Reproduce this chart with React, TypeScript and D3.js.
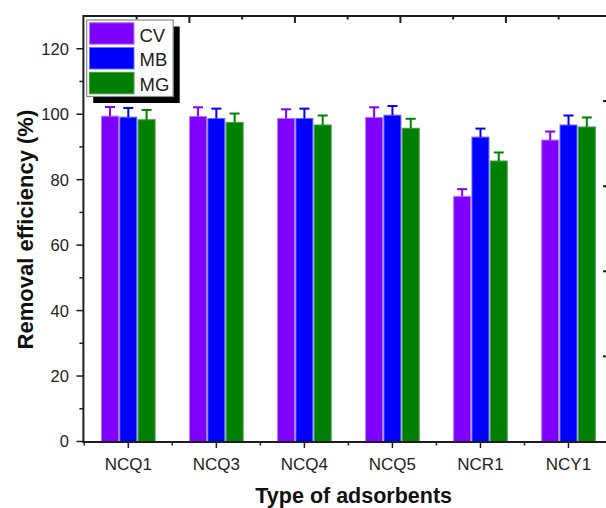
import React from "react";
import * as d3 from "d3";

const categories = ["NCQ1", "NCQ3", "NCQ4", "NCQ5", "NCR1", "NCY1"];
const seriesNames = ["CV", "MB", "MG"];
const cvValues = [99.4, 99.3, 98.7, 99.0, 74.9, 92.1];
const mbValues = [99.1, 98.7, 98.7, 99.7, 93.0, 96.7];
const mgValues = [98.3, 97.5, 96.7, 95.7, 85.7, 96.1];
const cvErrors = [2.8, 2.8, 2.8, 3.1, 2.2, 2.6];
const mbErrors = [2.8, 3.0, 3.0, 2.8, 2.6, 2.9];
const mgErrors = [3.0, 2.7, 2.9, 2.9, 2.6, 2.9];
const yTickValues = [0, 20, 40, 60, 80, 100, 120];

const W = 606;
const H = 508;
const FONT = "'Liberation Sans', Arial, Helvetica, sans-serif";
const colors = ["#8000ff", "#0000ff", "#008000"];
const borders = ["#b477ff", "#6a6aff", "#4a9a4a"];
const AXIS = "#1e1e1e";

export default function App() {
  const series = [
    { name: seriesNames[0], values: cvValues, errors: cvErrors },
    { name: seriesNames[1], values: mbValues, errors: mbErrors },
    { name: seriesNames[2], values: mgValues, errors: mgErrors },
  ];

  const y = d3.scaleLinear().domain([0, 130]).range([441.5, 16]);
  const x = d3.scaleLinear().domain([0, 5]).range([128.3, 568.5]);
  const barOffset = 18.3;
  const barW = 17;
  const left = x(-0.51);
  const right = x(5.52);
  const top = y(130);
  const bottom = y(0);

  // top (secondary layer) axis scale
  const xTop = d3.scaleLinear().domain([0, 1]).range([left + 0.5, left + 106]);
  const topTicks = d3.range(0.5, 5.5, 0.5);
  // right (secondary layer) axis scale
  const yRight = d3.scaleLinear().domain([0, 5]).range([bottom, top]);
  const rightTicks = d3.range(1, 5, 1);

  const yMinor = d3.range(10, 130, 20);
  const xMinor = d3.range(-0.5, 6, 1);

  return (
    <svg
      width={W}
      height={H}
      style={{ position: "absolute", left: 0, top: 0, background: "#fff" }}
      fontFamily={FONT}
    >
      {/* bars */}
      {series.map((s, si) =>
        categories.map((c, i) => {
          const cx = x(i) + (si - 1) * barOffset;
          const v = s.values[i];
          return (
            <g key={`${s.name}-${c}`}>
              <rect
                x={cx - barW / 2}
                y={y(v)}
                width={barW}
                height={bottom - y(v)}
                fill={colors[si]}
                stroke={borders[si]}
                strokeWidth={1}
              />
              <line
                x1={cx}
                x2={cx}
                y1={y(v)}
                y2={y(v + s.errors[i])}
                stroke={colors[si]}
                strokeWidth={2}
              />
              <line
                x1={cx - 5}
                x2={cx + 5}
                y1={y(v + s.errors[i])}
                y2={y(v + s.errors[i])}
                stroke={colors[si]}
                strokeWidth={2}
              />
            </g>
          );
        })
      )}

      {/* frame */}
      <line x1={left} x2={W} y1={top} y2={top} stroke={AXIS} strokeWidth={2} />
      <line x1={left} x2={left} y1={top - 1} y2={bottom + 1} stroke={AXIS} strokeWidth={2} />
      <line x1={left - 1} x2={W} y1={bottom + 0.5} y2={bottom + 0.5} stroke={AXIS} strokeWidth={2} />
      <line x1={right} x2={right} y1={top} y2={bottom} stroke={AXIS} strokeWidth={2} />

      {/* top axis ticks (inward) */}
      {topTicks.map((t) => {
        const major = Math.abs(t - Math.round(t)) < 1e-6;
        return (
          <line
            key={`tt${t}`}
            x1={xTop(t)}
            x2={xTop(t)}
            y1={top}
            y2={top + (major ? 7 : 3.5)}
            stroke={AXIS}
            strokeWidth={2}
          />
        );
      })}

      {/* right axis ticks (inward) */}
      {rightTicks.map((t) => (
        <line
          key={`rt${t}`}
          x1={603}
          x2={right}
          y1={yRight(t)}
          y2={yRight(t)}
          stroke={AXIS}
          strokeWidth={2}
        />
      ))}

      {/* y axis ticks */}
      {yTickValues.map((t) => (
        <g key={`yt${t}`}>
          <line x1={left - 7} x2={left} y1={y(t)} y2={y(t)} stroke={AXIS} strokeWidth={1.5} />
          <text
            x={left - 14.5}
            y={y(t)}
            dy="0.36em"
            textAnchor="end"
            fontSize={16.5}
            fill="#222"
          >
            {t}
          </text>
        </g>
      ))}
      {yMinor.map((t) => (
        <line key={`ym${t}`} x1={left - 4} x2={left} y1={y(t)} y2={y(t)} stroke={AXIS} strokeWidth={1.5} />
      ))}

      {/* x axis ticks */}
      {categories.map((c, i) => (
        <g key={`xt${c}`}>
          <line x1={x(i)} x2={x(i)} y1={bottom} y2={bottom + 6.5} stroke={AXIS} strokeWidth={1.5} />
          <text x={x(i)} y={470} textAnchor="middle" fontSize={17} fill="#222">
            {c}
          </text>
        </g>
      ))}
      {xMinor.map((t) => (
        <line key={`xm${t}`} x1={x(t)} x2={x(t)} y1={bottom} y2={bottom + 4} stroke={AXIS} strokeWidth={1.5} />
      ))}

      {/* axis titles */}
      <text
        x={353.7}
        y={502.5}
        textAnchor="middle"
        fontSize={21.5}
        fontWeight="bold"
        fill="#111"
      >
        Type of adsorbents
      </text>
      <text
        transform={`translate(32.5, ${229.6}) rotate(-90)`}
        textAnchor="middle"
        fontSize={22}
        fontWeight="bold"
        fill="#111"
      >
        Removal efficiency (%)
      </text>

      {/* legend */}
      <g>
        <rect x={93.2} y={26.5} width={86.5} height={76.5} fill="#000" />
        <rect x={86.7} y={20} width={86.5} height={76.5} fill="#fff" stroke="#8a8a8a" strokeWidth={1.2} />
        {seriesNames.map((n, si) => (
          <g key={`lg${n}`}>
            <rect
              x={89.5}
              y={22.7 + si * 24.8}
              width={44.5}
              height={21.5}
              fill={colors[si]}
              stroke={borders[si]}
              strokeWidth={1}
            />
            <text x={139.5} y={41.5 + si * 24.5} fontSize={18.5} fill="#222">
              {n}
            </text>
          </g>
        ))}
      </g>
    </svg>
  );
}
